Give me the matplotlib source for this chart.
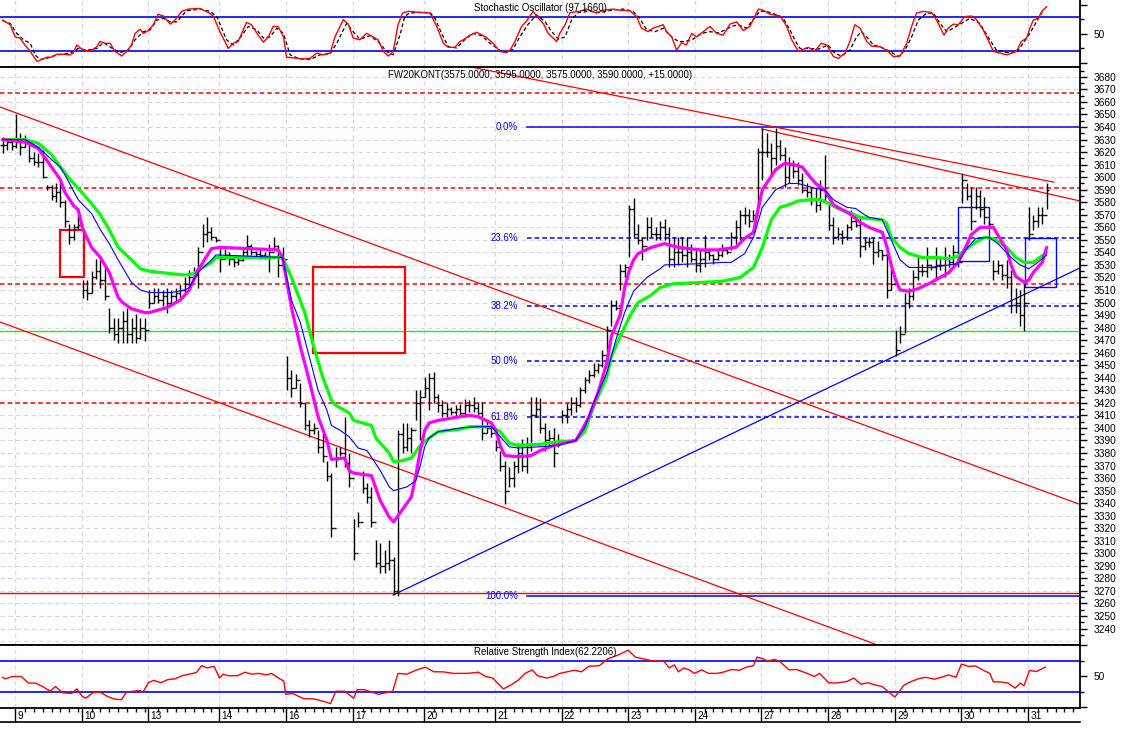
import numpy as np
import matplotlib
matplotlib.use("Agg")
import matplotlib.pyplot as plt
from matplotlib.lines import Line2D
from matplotlib.patches import Rectangle

plt.rcParams['font.family'] = ['Liberation Sans', 'DejaVu Sans']

# dias de sesion y primera vela (indice) de cada dia
dias = ["9", "10", "13", "14", "16", "17", "20", "21", "22", "23", "24", "27", "28", "29", "30", "31"]
inicio_dia = [3, 18, 33, 49, 64, 79, 95, 111, 126, 141, 156, 171, 186, 201, 216, 231]

# velas de 30 min: maximo, minimo, cierre
maximos = [3632, 3630, 3630,
           3650, 3635, 3634, 3627, 3620, 3619, 3622, 3594, 3594, 3595, 3598, 3582, 3563, 3563, 3571,
           3518, 3518, 3525, 3535, 3534, 3528, 3496, 3488, 3488, 3493, 3496, 3488, 3491, 3488, 3488,
           3510, 3512, 3512, 3510, 3512, 3510, 3512, 3515, 3520, 3526, 3528, 3544, 3563, 3568, 3560, 3552,
           3544, 3543, 3540, 3538, 3537, 3544, 3554, 3547, 3541, 3543, 3540, 3547, 3552, 3546, 3544,
           3457, 3446, 3443, 3436, 3420, 3406, 3404, 3398, 3396, 3374, 3364, 3385, 3385, 3409, 3380,
           3327, 3333, 3366, 3356, 3353, 3311, 3308, 3303, 3311, 3297, 3398, 3404, 3404, 3401, 3430, 3430,
           3441, 3444, 3445, 3427, 3422, 3420, 3417, 3418, 3419, 3423, 3422, 3425, 3421, 3421, 3406, 3401,
           3390, 3382, 3374, 3369, 3374, 3388, 3391, 3393, 3425, 3425, 3424, 3404, 3398, 3400, 3395,
           3414, 3420, 3425, 3425, 3433, 3441, 3446, 3452, 3452, 3462, 3481, 3502, 3502, 3531, 3531,
           3578, 3583, 3563, 3552, 3568, 3568, 3560, 3565, 3567, 3560, 3552, 3552, 3552, 3552, 3547,
           3542, 3542, 3554, 3542, 3539, 3542, 3547, 3544, 3556, 3566, 3574, 3576, 3575, 3574, 3623,
           3639, 3635, 3627, 3639, 3630, 3624, 3616, 3614, 3612, 3603, 3595, 3592, 3592, 3598, 3618,
           3579, 3568, 3560, 3558, 3563, 3574, 3568, 3568, 3552, 3552, 3552, 3549, 3542, 3540, 3531,
           3478, 3481, 3508, 3512, 3526, 3536, 3531, 3544, 3531, 3544, 3536, 3544, 3539, 3546, 3536,
           3603, 3595, 3592, 3592, 3590, 3584, 3565, 3534, 3534, 3531, 3534, 3526, 3512, 3510, 3518,
           3576, 3570, 3576, 3576, 3595]
minimos = [3619, 3622, 3622,
           3623, 3618, 3624, 3612, 3610, 3608, 3599, 3590, 3582, 3580, 3576, 3560, 3547, 3550, 3559,
           3504, 3502, 3508, 3519, 3512, 3502, 3476, 3470, 3468, 3468, 3468, 3468, 3468, 3471, 3469,
           3496, 3500, 3500, 3497, 3492, 3498, 3500, 3503, 3507, 3510, 3518, 3512, 3544, 3548, 3550, 3548,
           3524, 3535, 3530, 3528, 3530, 3533, 3536, 3538, 3537, 3535, 3535, 3524, 3542, 3520, 3526,
           3430, 3425, 3432, 3417, 3398, 3393, 3395, 3380, 3373, 3358, 3313, 3369, 3378, 3369, 3353,
           3295, 3321, 3348, 3340, 3321, 3289, 3284, 3284, 3287, 3267, 3266, 3380, 3382, 3380, 3406, 3390,
           3425, 3414, 3420, 3413, 3409, 3409, 3410, 3409, 3410, 3409, 3413, 3413, 3409, 3390, 3396, 3393,
           3382, 3366, 3339, 3353, 3353, 3364, 3366, 3364, 3382, 3409, 3396, 3382, 3385, 3369, 3385,
           3404, 3404, 3410, 3413, 3417, 3428, 3436, 3441, 3444, 3449, 3460, 3481, 3494, 3510, 3520,
           3536, 3552, 3547, 3534, 3550, 3552, 3550, 3550, 3550, 3528, 3528, 3530, 3532, 3528, 3532,
           3524, 3524, 3528, 3534, 3531, 3534, 3536, 3539, 3542, 3547, 3550, 3563, 3560, 3566, 3576,
           3598, 3616, 3600, 3610, 3614, 3592, 3595, 3599, 3594, 3587, 3584, 3578, 3572, 3574, 3580,
           3558, 3547, 3550, 3547, 3550, 3558, 3560, 3536, 3542, 3544, 3531, 3536, 3534, 3504, 3510,
           3457, 3468, 3476, 3496, 3502, 3518, 3521, 3520, 3526, 3518, 3526, 3520, 3528, 3531, 3528,
           3579, 3582, 3558, 3575, 3568, 3563, 3561, 3518, 3523, 3518, 3512, 3492, 3492, 3481, 3477,
           3550, 3558, 3560, 3563, 3575]
cierres = [3626, 3628, 3625,
           3628, 3624, 3628, 3615, 3612, 3612, 3600, 3592, 3585, 3588, 3580, 3565, 3552, 3560, 3562,
           3510, 3508, 3520, 3525, 3518, 3505, 3480, 3475, 3480, 3485, 3475, 3480, 3472, 3480, 3478,
           3500, 3505, 3502, 3505, 3500, 3505, 3508, 3510, 3515, 3520, 3522, 3540, 3555, 3556, 3552, 3550,
           3535, 3538, 3535, 3532, 3534, 3540, 3545, 3540, 3539, 3538, 3537, 3540, 3545, 3530, 3535,
           3440, 3432, 3438, 3420, 3402, 3398, 3400, 3385, 3378, 3362, 3320, 3375, 3380, 3372, 3360,
           3300, 3325, 3352, 3345, 3325, 3292, 3290, 3292, 3295, 3270, 3395, 3385, 3392, 3398, 3420, 3425,
           3432, 3440, 3425, 3418, 3412, 3415, 3413, 3415, 3412, 3418, 3418, 3416, 3412, 3396, 3400, 3396,
           3385, 3370, 3350, 3360, 3370, 3380, 3370, 3385, 3410, 3415, 3400, 3390, 3392, 3380, 3390,
           3410, 3415, 3420, 3418, 3430, 3438, 3442, 3446, 3450, 3458, 3478, 3498, 3496, 3525, 3528,
           3575, 3555, 3550, 3545, 3560, 3555, 3555, 3560, 3555, 3535, 3540, 3540, 3538, 3540, 3535,
           3530, 3535, 3540, 3538, 3535, 3538, 3542, 3540, 3552, 3560, 3570, 3570, 3565, 3570, 3620,
           3620, 3620, 3615, 3625, 3618, 3600, 3610, 3605, 3598, 3590, 3588, 3582, 3578, 3590, 3585,
           3562, 3552, 3555, 3552, 3560, 3565, 3562, 3545, 3548, 3548, 3540, 3542, 3538, 3510, 3515,
           3462, 3475, 3500, 3505, 3520, 3525, 3525, 3530, 3528, 3530, 3530, 3535, 3532, 3540, 3532,
           3598, 3585, 3565, 3585, 3575, 3568, 3563, 3525, 3530, 3522, 3520, 3498, 3500, 3490, 3500,
           3555, 3565, 3570, 3570, 3590]

# medias moviles (indice de vela, precio)
mag_x = [0, 5, 8, 11, 13, 14, 16, 17, 18, 20, 22, 24, 26, 27, 29, 32, 33, 37, 40, 42,
         44, 47, 49, 62, 63, 65, 67, 69, 71, 73, 74, 77, 78, 79, 83, 85, 87, 88, 89, 92,
         93, 94, 95, 96, 98, 103, 105, 107, 110, 111, 112, 113, 116, 119, 121, 124, 129, 130, 132, 134,
         136, 137, 139, 140, 141, 142, 143, 146, 149, 152, 157, 161, 165, 167, 169, 170, 171, 174, 176, 178,
         180, 182, 183, 185, 187, 190, 191, 193, 195, 198, 199, 200, 201, 202, 204, 206, 209, 211, 213, 215,
         217, 218, 220, 223, 224, 226, 227, 228, 230, 231, 232, 234, 235]
mag_y = [3630, 3628, 3623, 3608, 3598, 3588, 3577, 3574, 3559, 3544, 3536, 3524, 3504, 3500, 3495, 3492, 3492, 3496, 3502, 3510,
         3526, 3543, 3544, 3542, 3536, 3496, 3465, 3438, 3409, 3390, 3375, 3376, 3366, 3364, 3362, 3342, 3329, 3325, 3330, 3345,
         3362, 3382, 3398, 3404, 3406, 3409, 3410, 3409, 3404, 3398, 3386, 3378, 3377, 3378, 3382, 3386, 3390, 3396, 3409, 3428,
         3452, 3473, 3490, 3512, 3525, 3534, 3539, 3544, 3547, 3544, 3542, 3542, 3544, 3551, 3556, 3574, 3590, 3606, 3611, 3610,
         3608, 3599, 3595, 3590, 3578, 3572, 3570, 3564, 3560, 3556, 3545, 3530, 3518, 3510, 3509, 3511, 3516, 3520, 3524, 3532,
         3546, 3554, 3560, 3560, 3554, 3542, 3530, 3521, 3516, 3518, 3524, 3532, 3544]

verde_x = [0, 5, 8, 11, 13, 15, 17, 20, 22, 24, 26, 29, 31, 33, 38, 41, 43, 44, 47, 48,
           62, 63, 65, 68, 70, 72, 74, 75, 78, 79, 83, 84, 87, 88, 90, 92, 94, 96, 98, 103,
           105, 110, 112, 114, 116, 121, 125, 129, 131, 133, 136, 137, 139, 141, 143, 146, 148, 151, 157, 162,
           166, 169, 171, 173, 175, 177, 179, 182, 184, 186, 188, 191, 193, 195, 198, 199, 200, 202, 204, 207,
           210, 213, 215, 217, 219, 221, 223, 226, 228, 230, 232, 235]
verde_y = [3630, 3630, 3627, 3618, 3608, 3599, 3591, 3579, 3570, 3558, 3544, 3534, 3527, 3525, 3523, 3522, 3523, 3526, 3532, 3536,
           3536, 3536, 3520, 3492, 3465, 3441, 3422, 3418, 3412, 3406, 3402, 3392, 3380, 3373, 3374, 3376, 3386, 3392, 3397, 3399,
           3401, 3401, 3397, 3388, 3386, 3387, 3389, 3390, 3397, 3417, 3441, 3457, 3473, 3488, 3500, 3506, 3512, 3515, 3516, 3517,
           3520, 3528, 3544, 3566, 3576, 3578, 3581, 3582, 3582, 3579, 3575, 3571, 3568, 3567, 3566, 3563, 3552, 3544, 3539, 3536,
           3536, 3535, 3537, 3543, 3548, 3552, 3551, 3544, 3536, 3532, 3532, 3540]

azul_x = [0, 5, 8, 11, 13, 14, 17, 20, 22, 24, 26, 28, 29, 31, 33, 38, 41, 42, 44, 47,
          48, 63, 65, 67, 69, 71, 73, 74, 76, 78, 80, 82, 85, 87, 88, 91, 93, 94, 95, 96,
          98, 103, 107, 110, 112, 114, 116, 121, 125, 129, 131, 133, 136, 138, 140, 142, 145, 148, 149, 157,
          162, 164, 167, 169, 171, 174, 177, 179, 183, 185, 187, 190, 192, 194, 195, 198, 200, 202, 204, 209,
          213, 215, 217, 219, 222, 224, 227, 229, 231, 233, 235]
azul_y = [3630, 3630, 3624, 3614, 3608, 3602, 3582, 3571, 3558, 3547, 3534, 3522, 3516, 3510, 3508, 3508, 3510, 3512, 3524, 3534,
          3538, 3536, 3502, 3484, 3457, 3430, 3414, 3402, 3398, 3393, 3384, 3382, 3366, 3353, 3350, 3353, 3358, 3370, 3385, 3392,
          3397, 3400, 3401, 3401, 3393, 3385, 3384, 3385, 3386, 3390, 3400, 3420, 3444, 3470, 3492, 3509, 3520, 3527, 3530, 3531,
          3532, 3532, 3539, 3552, 3576, 3590, 3595, 3595, 3591, 3590, 3582, 3576, 3575, 3570, 3568, 3566, 3550, 3534, 3528, 3528,
          3530, 3531, 3543, 3551, 3552, 3547, 3536, 3530, 3527, 3532, 3538]

# oscilador estocastico: %K (rojo) y %D (negro discontinuo)
st_k_x = [0, 1.7, 2.8, 3.9, 5, 6.2, 7.7, 8.8, 9.9, 11, 12.2, 13.7, 15.2, 15.9, 16.7, 17.8, 18.9, 20, 21.2, 21.9,
          23, 24.2, 25.3, 26.8, 27.9, 29, 29.8, 30.9, 31.7, 32.8, 33.9, 35, 36.2, 37.7, 38.8, 40.3, 41.8, 44.4, 45.2, 46.3,
          47.4, 48.9, 50.8, 51.9, 53, 54.9, 56, 57.5, 58.7, 59.8, 60.9, 62, 63.2, 63.9, 65.4, 67.3, 69.2, 70.7, 72.2, 73.7,
          74.8, 76.7, 77.8, 78.9, 80.4, 81.9, 83.4, 84.5, 85.7, 86.8, 87.9, 89, 90, 91.3, 94.7, 96.2, 97.7, 99.2, 100.3, 101.8,
          102.9, 103.7, 105.2, 106.7, 108.9, 110.4, 111.9, 113.1, 114.2, 115.3, 116.8, 117.9, 119.4, 120.6, 121.7, 122.8, 123.9, 124.7, 125.4, 126.6,
          127.7, 129.9, 131.4, 133.7, 135.2, 137.4, 138.9, 141.2, 142.7, 143.8, 145.3, 146.4, 148.7, 149.4, 150.6, 151.7, 152.8, 153.9, 155.1, 156.2,
          157.7, 159.2, 160.7, 162.2, 163.7, 165.2, 166.7, 168.2, 170.1, 171.2, 172.7, 175, 176.5, 177.6, 179.1, 181.3, 182.8, 184.3, 185.5, 187,
          188.1, 189.6, 190.7, 191.8, 193, 194.5, 195.6, 197.5, 199, 200.5, 202, 203.5, 204.6, 205.7, 207.2, 209.1, 210.2, 211.9, 212.8, 214,
          215.1, 216.6, 218.1, 219.2, 220.7, 221.8, 223, 224.5, 226, 228.2, 229.3, 230.5, 231.2, 232, 233.1, 234, 235]
st_k_v = [74, 66, 45, 43, 31, 20, 3, 6, 10, 10, 15, 15, 14, 17, 31, 24, 21, 22, 28, 37,
          34, 34, 20, 12, 20, 31, 51, 58, 51, 56, 66, 84, 81, 67, 74, 89, 93, 94, 91, 87,
          81, 54, 25, 34, 37, 70, 66, 48, 36, 45, 63, 63, 45, 10, 9, 7, 8, 17, 14, 17,
          45, 75, 67, 43, 40, 51, 45, 40, 20, 12, 20, 66, 86, 89, 87, 86, 63, 34, 27, 27,
          37, 40, 48, 53, 44, 34, 20, 18, 22, 37, 63, 72, 89, 77, 68, 51, 43, 37, 51, 66,
          87, 89, 93, 86, 91, 93, 91, 90, 80, 60, 54, 60, 66, 54, 45, 22, 35, 31, 51, 45,
          54, 63, 51, 48, 67, 71, 56, 63, 93, 91, 84, 81, 63, 40, 20, 27, 21, 34, 31, 11,
          8, 17, 37, 66, 60, 37, 29, 28, 22, 11, 12, 34, 63, 86, 89, 87, 74, 48, 60, 67,
          66, 80, 81, 75, 57, 40, 20, 17, 14, 20, 37, 43, 60, 74, 77, 90, 97]
st_d_x = [0, 1.7, 3.2, 4.7, 6.2, 7.3, 8.4, 9.9, 12.2, 15.2, 17, 18.9, 21.2, 22.7, 24.9, 26.4, 28.3, 29.8, 31.7, 33.2,
          34.7, 36.2, 37.7, 39.2, 41.4, 44.4, 46.7, 48.2, 50.4, 51.9, 53.4, 55.3, 57.2, 58.7, 60.2, 61.7, 63.2, 64.7, 66.9, 69.2,
          71.4, 73.7, 75.2, 77.4, 78.9, 80.4, 82.7, 84.9, 86.4, 87.9, 89.5, 90.5, 91.5, 93.2, 96.2, 97.3, 98.8, 100.3, 102.2, 104.1,
          105.9, 107.8, 109.7, 111.9, 113.4, 114.9, 116.4, 118.3, 120.2, 122.1, 123.6, 125.1, 126.6, 128.1, 129.6, 132.2, 134.4, 137.1, 139.7, 141.9,
          143.4, 144.9, 146.8, 148.7, 150.6, 152.1, 153.6, 155.4, 157.3, 159.2, 161.1, 162.6, 164.1, 165.6, 167.4, 168.9, 170.4, 171.9, 174.2, 175.7,
          177.2, 178.7, 179.5, 181.7, 183.6, 185.8, 187.3, 188.8, 190.7, 192.2, 193.3, 194.5, 196, 197.8, 199.7, 201.6, 203.1, 204.6, 206.1, 208,
          209.5, 211, 212.5, 214, 215.5, 217.7, 220, 221.8, 223.7, 226, 228.2, 229.7, 231.2, 232.7, 234.2]
st_d_v = [73, 68, 51, 40, 34, 14, 6, 8, 14, 17, 25, 22, 25, 35, 24, 18, 22, 40, 54, 57,
          74, 77, 71, 71, 90, 93, 89, 80, 40, 31, 43, 63, 57, 43, 45, 60, 51, 14, 7, 6,
          14, 16, 34, 68, 54, 41, 47, 34, 20, 14, 50, 80, 86, 87, 87, 77, 51, 28, 26, 41,
          51, 47, 34, 22, 18, 24, 45, 67, 83, 71, 54, 41, 45, 75, 87, 89, 87, 91, 93, 89,
          77, 58, 54, 60, 45, 37, 37, 41, 51, 54, 52, 57, 63, 66, 60, 74, 89, 89, 83, 77,
          57, 34, 25, 25, 24, 31, 17, 12, 22, 45, 54, 45, 31, 27, 20, 11, 22, 45, 74, 86,
          86, 68, 54, 60, 67, 77, 68, 45, 22, 18, 18, 34, 51, 71, 91]

# RSI
rsi_x = [0, 0.6, 2.2, 4.2, 5.8, 7.4, 9.0, 10.7, 11.9, 13.5, 15.5, 16.7, 17.9, 18.7, 20.3, 21.9, 23.5, 25.1, 26.7, 27.9,
         29.5, 30.8, 31.6, 32.8, 34, 35.6, 37.2, 38.8, 40.4, 42, 43.6, 44.8, 46, 47.6, 48.8, 49.6, 50.8, 52.9, 54.5, 56.1,
         57.7, 59.3, 60.5, 62.1, 63.3, 63.7, 65.3, 67.7, 70.1, 72.2, 73.8, 75, 77, 79, 79.8, 81.4, 83, 84.6, 86.2, 87.8,
         89, 91, 93, 95.1, 97.1, 99.1, 101.5, 104.7, 107.1, 108.7, 110.3, 112.7, 114.4, 116, 117.6, 119.2, 120.4, 122.4, 124, 125.4,
         127, 128.7, 130.3, 131.9, 134.3, 136.3, 138.7, 140.8, 142.4, 144.8, 146.4, 148.8, 150, 151.2, 152.1, 153.3, 154.5, 155.7, 157.3, 158.9,
         160.9, 162.5, 164.1, 165.8, 167.4, 169, 169.8, 171, 172.2, 173.8, 175, 177, 178.7, 181.1, 182.7, 183.9, 185.9, 187.5, 190, 191.6,
         193.2, 194.8, 196.4, 198, 199.2, 200.8, 201.6, 202.9, 204.5, 206.1, 207.7, 209.7, 211.3, 212.9, 214.6, 215.8, 217.4, 219, 220.6, 222.2,
         223, 224.6, 226.3, 227.9, 229.1, 229.9, 231.1, 232.7, 234.7]
rsi_v = [49, 47, 50, 50, 41.5, 41.5, 37, 31, 37, 29, 28, 34, 24.5, 22, 29, 30, 24.5, 21, 20, 30,
         31, 32, 30, 42, 45, 42, 46, 47, 51, 53, 55, 64, 61, 63, 48, 53, 51, 51, 55.5, 53,
         54, 52, 54, 48, 44, 27, 28, 21.5, 21, 18, 15, 31, 31, 22, 33, 33, 30, 27, 29, 31,
         54, 53, 58, 62, 56, 56, 54, 54, 55.5, 50, 48, 34, 39, 45, 54, 58.5, 51, 48, 50, 54,
         56, 58, 56, 63, 64, 73, 78, 84, 75, 72, 70, 70, 61, 65, 56, 61, 58.5, 54, 58.5, 54,
         54, 56, 59, 58, 62, 64, 75, 73, 70, 72, 69, 58.5, 59, 54, 50, 54, 42, 41.5, 43.5, 48,
         40, 42, 39, 37, 31, 23.5, 29, 39, 43.5, 47, 49, 46.5, 49, 52, 49, 66, 63, 63.5, 58.5, 54,
         43, 43, 41.5, 35, 41.5, 38, 57.7, 56.4, 62]

# niveles dibujados por el analista
niveles_rojos = [3667, 3591, 3515, 3420]
nivel_verde = 3477
nivel_rojo_bajo = 3268
fibo_alto, fibo_bajo = 3640, 3266
fibo_pct = [0.0, 23.6, 38.2, 50.0, 61.8, 100.0]
fibo_inicio = 118

# lineas de tendencia: (vela, precio) -> (vela, precio)
tendencias = [((-0.6, 3656), (242.5, 3339), 'red'),
              ((-0.6, 3484.5), (242.5, 3167.5), 'red'),
              ((105.2, 3688), (236.6, 3596), 'red'),
              ((170.9, 3638.4), (242.5, 3581), 'red'),
              ((87.9, 3266.8), (242.5, 3527.6), '#0000ff')]

# recuadros: (vela ini, vela fin, precio bajo, precio alto, color, grosor)
cuadros = [(12.9, 18.3, 3520.4, 3557.9, 'red', 1.6),
           (69.9, 90.6, 3459.8, 3528.4, 'red', 1.6),
           (215.1, 222.1, 3533.0, 3576.4, '#0000ff', 1.0),
           (230.1, 237.0, 3512.2, 3551.2, '#0000ff', 1.0)]

W, H = 1122.0, 734.0
fig = plt.figure(figsize=(W / 100, H / 100), dpi=100)


def caja(y0, y1):
    return [0, 1 - y1 / H, 1080 / W, (y1 - y0) / H]


ax_st = fig.add_axes(caja(0, 67))
ax = fig.add_axes(caja(67, 645))
ax_rsi = fig.add_axes(caja(645, 708))

gris = '#d6d6f2'
rayas = (0, (4, 3))
for a in (ax_st, ax, ax_rsi):
    a.set_xlim(-0.6, 242.5)
    a.spines['left'].set_visible(False)
    for s in ('right', 'top', 'bottom'):
        a.spines[s].set_linewidth(1.3)
    for d in inicio_dia:
        a.axvline(d - 0.2, color=gris, lw=0.8, ls=rayas, zorder=0)
    a.yaxis.tick_right()
    a.tick_params(axis='y', which='major', length=5, width=1, labelsize=7.3, pad=5)
    a.tick_params(axis='y', which='minor', length=3, width=1)
    a.tick_params(axis='x', which='both', bottom=False, top=False, labelbottom=False)
ax_st.spines['top'].set_visible(False)

# ---- estocastico
ax_st.set_ylim(-6.9, 108.6)
ax_st.axhline(80, color='#0000ff', lw=1.2, zorder=1)
ax_st.axhline(20, color='#0000ff', lw=1.2, zorder=1)
ax_st.plot(st_d_x, st_d_v, color='k', lw=0.9, ls=(0, (3, 2)), zorder=2)
ax_st.plot(st_k_x, st_k_v, color='#ff0000', lw=1.0, zorder=3)
ax_st.set_yticks([0, 50, 100])
ax_st.set_yticklabels(['', '50', ''])
ax_st.set_yticks([25, 75], minor=True)
ax_st.text(0.5, 0.88, "Stochastic Oscillator (97.1660)", transform=ax_st.transAxes,
           ha='center', va='center', fontsize=7)

# ---- precio
ax.set_ylim(3226.9, 3687.85)
for p in range(3230, 3690, 10):
    ax.axhline(p, color=gris, lw=0.8, ls=rayas, zorder=0)
for p in niveles_rojos:
    ax.axhline(p, color='#ff0000', lw=1.1, ls=(0, (3, 2)), zorder=1)
ax.axhline(nivel_verde, color='#00ff00', lw=1.0, zorder=1)
ax.axhline(nivel_rojo_bajo, color='#ff0000', lw=1.0, zorder=1)

for pct in fibo_pct:
    nivel = fibo_alto - (fibo_alto - fibo_bajo) * pct / 100
    estilo = '-' if pct in (0.0, 100.0) else (0, (3, 2))
    ax.plot([fibo_inicio, 242.5], [nivel, nivel], color='#0000ff', lw=1.1, ls=estilo, zorder=1)
    ax.text(fibo_inicio - 2, nivel, f"{pct:.1f}%", color='#0000ff', fontsize=7,
            ha='right', va='center', zorder=5)

for (xa, ya), (xb, yb), c in tendencias:
    ax.plot([xa, xb], [ya, yb], color=c, lw=0.9, zorder=2)

for xa, xb, ya, yb, c, g in cuadros:
    ax.add_patch(Rectangle((xa, ya), xb - xa, yb - ya, fill=False, edgecolor=c, lw=g, zorder=2))

velas = np.arange(len(cierres))
aperturas = [cierres[0]] + cierres[:-1]
ax.vlines(velas, minimos, maximos, color='k', lw=1.0, zorder=3)
ax.hlines(aperturas, velas - 0.5, velas, color='k', lw=1.0, zorder=3)
ax.hlines(cierres, velas, velas + 0.5, color='k', lw=1.0, zorder=3)

ax.plot(verde_x, verde_y, color='#00ff00', lw=2.3, zorder=4, solid_capstyle='round')
ax.plot(mag_x, mag_y, color='#ff00ff', lw=2.3, zorder=4, solid_capstyle='round')
ax.plot(azul_x, azul_y, color='#0000ff', lw=0.8, zorder=5)

ax.set_yticks(np.arange(3240, 3681, 10))
ax.set_yticks(np.arange(3235, 3686, 10), minor=True)
ax.text(0.5, 0.986, "FW20KONT(3575.0000, 3595.0000, 3575.0000, 3590.0000, +15.0000)",
        transform=ax.transAxes, ha='center', va='center', fontsize=7)

# ---- RSI
ax_rsi.set_ylim(9.35, 90.6)
ax_rsi.axhline(70, color='#0000ff', lw=1.2, zorder=1)
ax_rsi.axhline(30, color='#0000ff', lw=1.2, zorder=1)
ax_rsi.plot(rsi_x, rsi_v, color='#ff0000', lw=1.0, zorder=3)
ax_rsi.set_yticks([10, 50, 90])
ax_rsi.set_yticklabels(['', '50', ''])
ax_rsi.set_yticks([30, 70], minor=True)
ax_rsi.text(0.505, 0.885, "Relative Strength Index(62.2206)", transform=ax_rsi.transAxes,
            ha='center', va='center', fontsize=7)

# eje de fechas
menores = []
limites = inicio_dia + [243]
for a, b in zip(limites[:-1], limites[1:]):
    menores += list(range(a + 2, b, 2))
ax_rsi.set_xticks([d - 0.2 for d in inicio_dia])
ax_rsi.set_xticks(menores, minor=True)
ax_rsi.tick_params(axis='x', which='major', bottom=True, length=10, width=1, direction='out')
ax_rsi.tick_params(axis='x', which='minor', bottom=True, length=3, width=1, direction='out')
for d, lbl in zip(inicio_dia, dias):
    ax_rsi.text(d + 0.3, -0.13, lbl, transform=ax_rsi.get_xaxis_transform(),
                ha='left', va='center', fontsize=7.3)
fig.add_artist(Line2D([0, 1080 / W], [1 - 722 / H, 1 - 722 / H], transform=fig.transFigure,
                      color='k', lw=1.2))

fig.savefig("out.png", dpi=100)
